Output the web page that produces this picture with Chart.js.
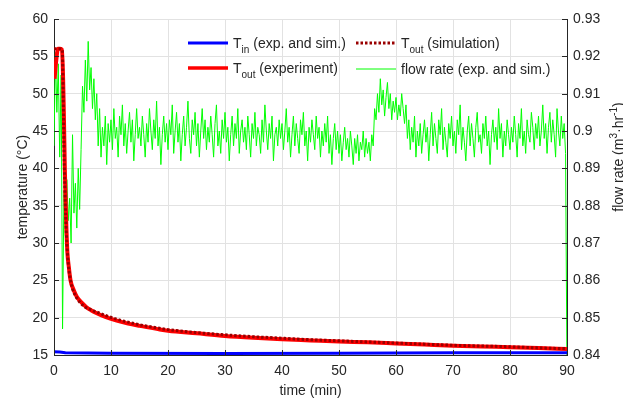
<!DOCTYPE html>
<html>
<head>
<meta charset="utf-8">
<script src="https://cdn.jsdelivr.net/npm/chart.js@4.4.1/dist/chart.umd.min.js"></script>
<style>
  html, body { margin: 0; padding: 0; background: #fff; }
</style>
</head>
<body>
<canvas id="chart" width="623" height="400"></canvas>
<script>
const FONT = "'Liberation Sans', Arial, Helvetica, sans-serif";
const TEXT = '#262626';

// T_out measured
const expTime = [0.1, 0.4, 0.7, 1.0, 1.4, 1.6, 1.75, 1.9, 2.05, 2.2, 2.35, 2.6, 2.9, 3.4, 4.0, 5.0, 5.7, 6.5, 7.5, 9,
  11, 13, 15, 18, 20, 25, 30, 35, 40, 45, 50, 55, 60, 65, 70, 75, 80, 85, 90];
const expTemp = [52.0, 54.5, 56.0, 56.0, 55.9, 52.0, 46.5, 40.0, 35.3, 31.5, 28.7, 26.8, 25.0, 23.8, 22.8, 21.9, 21.4, 21.0, 20.6, 20.1,
  19.6, 19.2, 18.9, 18.5, 18.25, 17.9, 17.55, 17.3, 17.1, 16.95, 16.8, 16.7, 16.55, 16.4, 16.25, 16.15, 16.05, 15.95, 15.8];

// T_out simulated
const simTime = [0, 0.5, 1.0, 1.45, 1.6, 1.75, 1.9, 2.05, 2.25, 2.5, 2.8, 3.2, 3.8, 4.5, 5.5, 6.5, 7.5, 9,
  11, 13, 15, 18, 20, 25, 30, 35, 40, 45, 50, 55, 60, 65, 70, 75, 80, 85, 90];
const simTemp = [56.0, 56.0, 56.0, 55.8, 50.0, 43.0, 37.5, 33.5, 30.0, 27.3, 25.4, 24.0, 22.9, 22.1, 21.4, 21.05, 20.75, 20.3,
  19.8, 19.4, 19.05, 18.65, 18.4, 18.0, 17.7, 17.45, 17.25, 17.05, 16.9, 16.75, 16.6, 16.45, 16.3, 16.2, 16.1, 15.95, 15.85];

// T_in
const inTime = [0, 1, 2, 10, 30, 50, 70, 90];
const inTemp = [15.45, 15.4, 15.3, 15.25, 15.2, 15.25, 15.3, 15.3];

// flow rate, one sample every 0.25 min
const flowStep = 0.25;
const flowRate = [
  0.896, 0.921, 0.905, 0.918, 0.893, 0.915, 0.847, 0.884, 0.872, 0.887, 0.876, 0.882, 0.870, 0.899, 0.878, 0.886, 0.874, 0.890, 0.879, 0.895,
  0.912, 0.905, 0.919, 0.908, 0.924, 0.911, 0.917, 0.906, 0.914, 0.903, 0.910, 0.896, 0.906, 0.893, 0.901, 0.896, 0.904, 0.891, 0.902, 0.897,
  0.903, 0.895, 0.906, 0.898, 0.901, 0.893, 0.904, 0.899, 0.907, 0.896, 0.902, 0.894, 0.900, 0.905, 0.897, 0.903, 0.892, 0.899, 0.906, 0.898,
  0.901, 0.896, 0.904, 0.899, 0.893, 0.902, 0.897, 0.906, 0.900, 0.895, 0.903, 0.898, 0.908, 0.896, 0.901, 0.891, 0.899, 0.904, 0.897, 0.902,
  0.895, 0.903, 0.899, 0.907, 0.894, 0.900, 0.905, 0.897, 0.902, 0.892, 0.899, 0.904, 0.896, 0.901, 0.908, 0.898, 0.894, 0.903, 0.899, 0.905,
  0.896, 0.902, 0.893, 0.900, 0.906, 0.898, 0.903, 0.895, 0.901, 0.897, 0.904, 0.899, 0.893, 0.902, 0.907, 0.896, 0.900, 0.894, 0.903, 0.898,
  0.905, 0.897, 0.901, 0.892, 0.899, 0.904, 0.896, 0.902, 0.898, 0.906, 0.894, 0.900, 0.903, 0.897, 0.901, 0.895, 0.904, 0.899, 0.893, 0.902,
  0.898, 0.905, 0.896, 0.901, 0.899, 0.894, 0.903, 0.897, 0.907, 0.900, 0.895, 0.902, 0.898, 0.904, 0.892, 0.899, 0.901, 0.896, 0.903, 0.898,
  0.902, 0.895, 0.900, 0.906, 0.897, 0.901, 0.893, 0.899, 0.904, 0.896, 0.902, 0.898, 0.894, 0.903, 0.899, 0.905, 0.896, 0.900, 0.892, 0.901,
  0.897, 0.903, 0.899, 0.895, 0.904, 0.898, 0.901, 0.893, 0.900, 0.896, 0.902, 0.897, 0.904, 0.894, 0.899, 0.891, 0.898, 0.902, 0.895, 0.900,
  0.894, 0.899, 0.892, 0.897, 0.901, 0.895, 0.898, 0.893, 0.900, 0.896, 0.891, 0.898, 0.894, 0.899, 0.892, 0.897, 0.895, 0.900, 0.893, 0.898,
  0.894, 0.897, 0.892, 0.899, 0.896, 0.906, 0.903, 0.910, 0.905, 0.914, 0.907, 0.911, 0.904, 0.909, 0.913, 0.906, 0.910, 0.903, 0.908, 0.905,
  0.909, 0.903, 0.907, 0.904, 0.910, 0.906, 0.902, 0.907, 0.898, 0.903, 0.895, 0.901, 0.897, 0.904, 0.893, 0.900, 0.896, 0.902, 0.894, 0.899,
  0.903, 0.897, 0.901, 0.892, 0.899, 0.905, 0.896, 0.902, 0.898, 0.894, 0.903, 0.899, 0.906, 0.895, 0.901, 0.897, 0.893, 0.902, 0.898, 0.904,
  0.896, 0.900, 0.894, 0.903, 0.899, 0.907, 0.895, 0.901, 0.897, 0.892, 0.900, 0.904, 0.896, 0.902, 0.898, 0.893, 0.901, 0.905, 0.897, 0.899,
  0.894, 0.902, 0.898, 0.904, 0.896, 0.900, 0.891, 0.899, 0.903, 0.897, 0.901, 0.895, 0.906, 0.898, 0.902, 0.893, 0.900, 0.896, 0.903, 0.899,
  0.895, 0.901, 0.897, 0.904, 0.899, 0.893, 0.902, 0.898, 0.906, 0.896, 0.900, 0.894, 0.903, 0.899, 0.897, 0.905, 0.901, 0.895, 0.902, 0.898,
  0.904, 0.896, 0.900, 0.907, 0.898, 0.902, 0.894, 0.901, 0.905, 0.897, 0.903, 0.899, 0.893, 0.906, 0.900, 0.896, 0.904, 0.898, 0.902, 0.894,
  0.835
];

const pairs = (xs, ys) => ys.map((y, i) => ({ x: xs[i], y: y }));
const flowPoints = flowRate.map((y, i) => ({ x: i * flowStep, y: y }));

// text with sub/superscripts: parts = [[text, size, dy], ...]
function richWidth(ctx, parts) {
  let w = 0;
  parts.forEach(p => { ctx.font = p[1] + 'px ' + FONT; w += ctx.measureText(p[0]).width; });
  return w;
}
function drawRich(ctx, parts, x, y) {
  parts.forEach(p => {
    ctx.font = p[1] + 'px ' + FONT;
    ctx.fillText(p[0], x, y + (p[2] || 0));
    x += ctx.measureText(p[0]).width;
  });
}

const legendItems = [
  { x: 188, y: 43, color: 'rgb(0,0,255)', width: 3, dash: [], parts: [['T', 14], ['in', 10, 5], [' (exp. and sim.)', 14]] },
  { x: 356, y: 43, color: '#990000', width: 3, dash: [2.5, 2], parts: [['T', 14], ['out', 10, 5], [' (simulation)', 14]] },
  { x: 188, y: 68, color: 'rgb(255,0,0)', width: 3.5, dash: [], parts: [['T', 14], ['out', 10, 5], [' (experiment)', 14]] },
  { x: 356, y: 69, color: 'rgb(0,255,0)', width: 1, dash: [], parts: [['flow rate (exp. and sim.)', 14]] }
];

const decorPlugin = {
  id: 'decor',
  afterDraw(chart) {
    const { ctx, chartArea: a, scales } = chart;
    ctx.save();

    // inward tick marks
    ctx.strokeStyle = TEXT;
    ctx.lineWidth = 1;
    ctx.beginPath();
    scales.x.ticks.forEach(t => {
      const px = Math.round(scales.x.getPixelForValue(t.value)) + 0.5;
      ctx.moveTo(px, a.bottom); ctx.lineTo(px, a.bottom - 5);
    });
    scales.y.ticks.forEach(t => {
      const py = Math.round(scales.y.getPixelForValue(t.value)) + 0.5;
      ctx.moveTo(a.left, py); ctx.lineTo(a.left + 5, py);
    });
    scales.y1.ticks.forEach(t => {
      const py = Math.round(scales.y1.getPixelForValue(t.value)) + 0.5;
      ctx.moveTo(a.right, py); ctx.lineTo(a.right - 5, py);
    });
    ctx.stroke();

    // legend
    legendItems.forEach(it => {
      ctx.strokeStyle = it.color;
      ctx.lineWidth = it.width;
      ctx.setLineDash(it.dash);
      ctx.beginPath();
      ctx.moveTo(it.x, it.y); ctx.lineTo(it.x + 40, it.y);
      ctx.stroke();
      ctx.setLineDash([]);
      ctx.fillStyle = TEXT;
      ctx.textBaseline = 'alphabetic';
      ctx.textAlign = 'left';
      drawRich(ctx, it.parts, it.x + 45, it.y + 5);
    });

    // axis titles
    ctx.fillStyle = TEXT;
    ctx.textAlign = 'center';
    ctx.textBaseline = 'alphabetic';
    ctx.font = '14px ' + FONT;
    ctx.fillText('time (min)', (a.left + a.right) / 2, 395);

    ctx.textAlign = 'left';
    const leftParts = [['temperature (°C)', 14]];
    ctx.save();
    ctx.translate(26.5, (a.top + a.bottom) / 2);
    ctx.rotate(-Math.PI / 2);
    drawRich(ctx, leftParts, -richWidth(ctx, leftParts) / 2, 0);
    ctx.restore();

    const rightParts = [['flow rate (m', 14], ['3', 10, -6], ['·hr', 14], ['-1', 10, -6], [')', 14]];
    ctx.save();
    ctx.translate(623, 157);
    ctx.rotate(-Math.PI / 2);
    drawRich(ctx, rightParts, -richWidth(ctx, rightParts) / 2, 0);
    ctx.restore();

    ctx.restore();
  }
};

const gridColor = '#e2e2e2';

new Chart(document.getElementById('chart'), {
  type: 'line',
  data: {
    datasets: [
      {
        label: 'T_in (exp. and sim.)',
        data: pairs(inTime, inTemp),
        borderColor: 'rgb(0,0,255)',
        borderWidth: 3,
        yAxisID: 'y',
        order: 3
      },
      {
        label: 'T_out (experiment)',
        data: pairs(expTime, expTemp),
        borderColor: 'rgb(255,0,0)',
        borderWidth: 4,
        cubicInterpolationMode: 'monotone',
        yAxisID: 'y',
        order: 2
      },
      {
        label: 'T_out (simulation)',
        data: pairs(simTime, simTemp),
        borderColor: '#990000',
        borderWidth: 3,
        borderDash: [2.5, 2],
        cubicInterpolationMode: 'monotone',
        yAxisID: 'y',
        order: 1
      },
      {
        label: 'flow rate (exp. and sim.)',
        data: flowPoints,
        borderColor: 'rgb(0,255,0)',
        borderWidth: 1,
        yAxisID: 'y1',
        order: 4
      }
    ]
  },
  options: {
    responsive: false,
    animation: false,
    devicePixelRatio: 1,
    parsing: true,
    layout: { padding: { left: 0, right: 0, top: 19, bottom: 0 } },
    elements: { point: { radius: 0, hoverRadius: 0 }, line: { tension: 0, borderJoinStyle: 'round' } },
    plugins: { legend: { display: false }, tooltip: { enabled: false } },
    scales: {
      x: {
        type: 'linear',
        min: 0,
        max: 90,
        afterFit: s => { s.height = 45; },
        ticks: { stepSize: 10, padding: 8, color: TEXT, font: { family: FONT, size: 14 }, maxRotation: 0 },
        grid: { color: gridColor, drawTicks: false },
        border: { color: TEXT, width: 1 }
      },
      y: {
        type: 'linear',
        position: 'left',
        min: 15,
        max: 60,
        afterFit: s => { s.width = 54; },
        ticks: { stepSize: 5, padding: 6, color: TEXT, font: { family: FONT, size: 14 } },
        grid: { color: gridColor, drawTicks: false },
        border: { color: TEXT, width: 1 }
      },
      y1: {
        type: 'linear',
        position: 'right',
        min: 0.84,
        max: 0.93,
        afterFit: s => { s.width = 56; },
        ticks: {
          stepSize: 0.01,
          padding: 6,
          color: TEXT,
          font: { family: FONT, size: 14 },
          callback: v => String(parseFloat(v.toFixed(2)))
        },
        grid: { drawOnChartArea: false, drawTicks: false },
        border: { color: TEXT, width: 1 }
      }
    }
  },
  plugins: [decorPlugin]
});
</script>
</body>
</html>
